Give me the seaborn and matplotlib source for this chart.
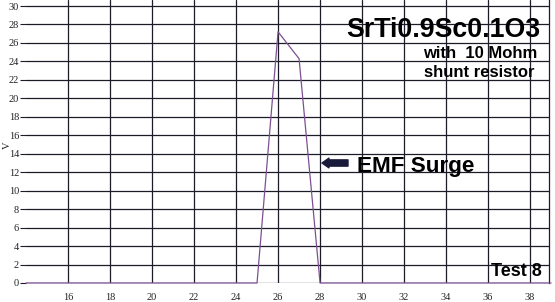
import matplotlib
matplotlib.use("Agg")
import matplotlib.pyplot as plt
import seaborn as sns
import pandas as pd

time_s = [14, 15, 16, 17, 18, 19, 20, 21, 22, 23, 24, 25, 26, 27, 28,
          29, 30, 31, 32, 33, 34, 35, 36, 37, 38, 39]
volts = [0, 0, 0, 0, 0, 0, 0, 0, 0, 0, 0, 0, 27.2, 24.3, 0,
         0, 0, 0, 0, 0, 0, 0, 0, 0, 0, 0]
x_ticks = [16, 18, 20, 22, 24, 26, 28, 30, 32, 34, 36, 38]
y_ticks = [0, 2, 4, 6, 8, 10, 12, 14, 16, 18, 20, 22, 24, 26, 28, 30]

df = pd.DataFrame({"t": time_s, "V": volts})

sns.set_style("white")
plt.rcParams["font.family"] = ["Liberation Sans", "DejaVu Sans"]

fig = plt.figure(figsize=(5.55, 3.02), dpi=100)
ax = fig.add_axes([26 / 555, 19 / 302, 523 / 555, 283 / 302])

ax.set_xlim(14, 38.9)
ax.set_ylim(0, 30.65)
ax.set_xticks(x_ticks)
ax.set_yticks(y_ticks)
ax.grid(True, color="#1c1c28", linewidth=0.9)
ax.set_axisbelow(True)

sns.lineplot(data=df, x="t", y="V", ax=ax, color="#7d4f92", linewidth=0.9,
             clip_on=False, zorder=5)

for s in ["left", "top", "bottom"]:
    ax.spines[s].set_visible(False)
ax.spines["right"].set_color("#1c1c28")
ax.spines["right"].set_linewidth(0.9)

ax.tick_params(axis="y", which="both", left=True, length=4, width=0.8,
               color="#1c1c28", pad=1, labelsize=7.5)
ax.tick_params(axis="x", which="both", bottom=False, pad=4, labelsize=7.5)
for lab in ax.get_xticklabels() + ax.get_yticklabels():
    lab.set_fontfamily("Liberation Serif")
    lab.set_color("#222222")

ax.set_xlabel("")
ax.set_ylabel("")
fig.text(7 / 555, 1 - 145 / 302, "V", rotation=90, ha="center", va="center",
         fontfamily="Liberation Serif", fontsize=7.5, color="#222222")

ax.text(540 / 555, 1 - 37 / 302, "SrTi0.9Sc0.1O3", transform=fig.transFigure,
        ha="right", va="baseline", fontsize=19.3, fontweight="bold", color="black")
ax.text(480 / 555, 1 - 58 / 302, "with  10 Mohm", transform=fig.transFigure,
        ha="center", va="baseline", fontsize=12, fontweight="bold", color="black")
ax.text(479 / 555, 1 - 77 / 302, "shunt resistor", transform=fig.transFigure,
        ha="center", va="baseline", fontsize=12, fontweight="bold", color="black")
ax.text(357 / 555, 1 - 172 / 302, "EMF Surge", transform=fig.transFigure,
        ha="left", va="baseline", fontsize=16.2, fontweight="bold", color="black")
ax.text(542 / 555, 1 - 276 / 302, "Test 8", transform=fig.transFigure,
        ha="right", va="baseline", fontsize=13, fontweight="bold", color="black")

ax.annotate("", xy=(322 / 555, 1 - 163 / 302), xytext=(348 / 555, 1 - 163 / 302),
            xycoords="figure fraction", textcoords="figure fraction",
            arrowprops=dict(arrowstyle="simple,head_length=0.5,head_width=0.7,tail_width=0.45",
                            color="#1a1a3a", shrinkA=0, shrinkB=0))

fig.savefig("out.png", dpi=100)
